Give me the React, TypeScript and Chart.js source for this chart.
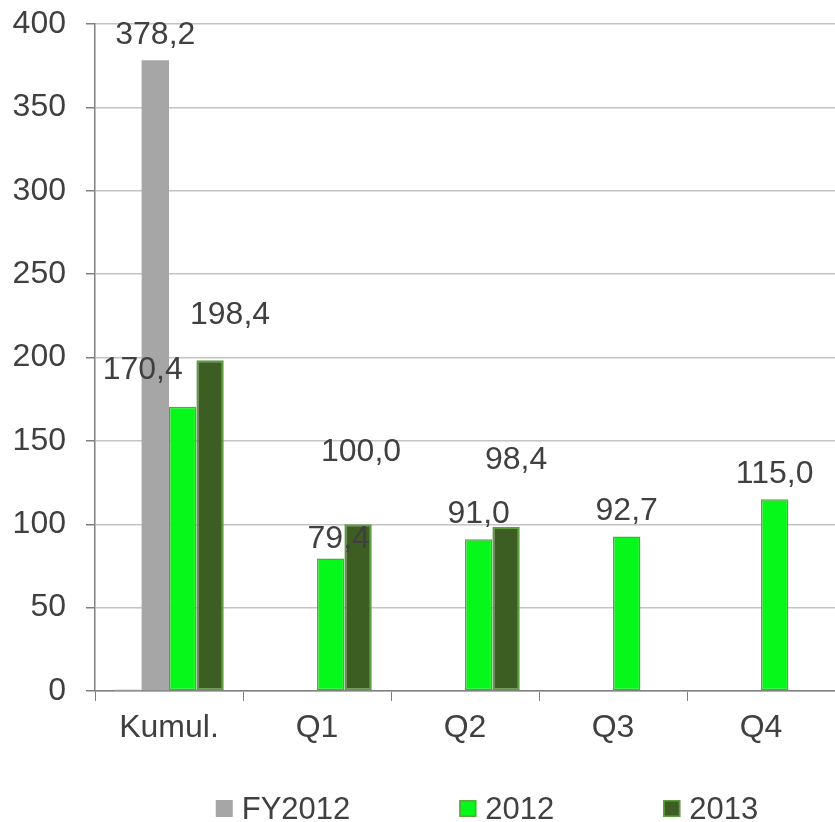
import React, { useEffect, useRef } from "react";
import { Chart, registerables } from "chart.js";

Chart.register(...registerables);

const FONT = '"Liberation Sans", Arial, sans-serif';
const TEXT = "#404040";

const categories = ["Kumul.", "Q1", "Q2", "Q3", "Q4"];
const seriesBlank: (number | null)[] = [0, null, null, null, null];
const seriesFY2012: (number | null)[] = [378.2, null, null, null, null];
const series2012: (number | null)[] = [170.4, 79.4, 91.0, 92.7, 115.0];
const series2013: (number | null)[] = [198.4, 100.0, 98.4, null, null];
const yMin = 0;
const yMax = 400;
const yStep = 50;

// pixel nudges of the value labels (label placement style only)
const nudgeFY2012 = [[0, 0], [0, 0], [0, 0], [0, 0], [0, 0]];
const nudge2012 = [[-40, -12], [8, 5], [0, 0], [0, 0], [0, 0]];
const nudge2013 = [[20, -20], [3, -47], [10, -42], [0, 0], [0, 0]];

const fmt = (v: number) => v.toFixed(1).replace(".", ",");

const valueLabels = {
  id: "valueLabels",
  afterDatasetsDraw(chart: any) {
    const ctx = chart.ctx;
    ctx.save();
    ctx.font = `32px ${FONT}`;
    ctx.fillStyle = TEXT;
    ctx.textAlign = "center";
    ctx.textBaseline = "alphabetic";
    chart.data.datasets.forEach((ds: any, di: number) => {
      if (!ds.nudges) return;
      const meta = chart.getDatasetMeta(di);
      meta.data.forEach((bar: any, i: number) => {
        const v = ds.data[i];
        if (v == null) return;
        const [dx, dy] = ds.nudges[i] || [0, 0];
        ctx.fillText(fmt(v), bar.x + dx, bar.y - 16 + dy);
      });
    });
    ctx.restore();
  },
};

const customLegend = {
  id: "customLegend",
  afterDraw(chart: any) {
    const ctx = chart.ctx;
    const items = chart.data.datasets.filter((d: any) => d.label);
    ctx.save();
    ctx.font = `31px ${FONT}`;
    const box = 17;
    const boxGap = 9;
    const gap = 109;
    const widths = items.map((it: any) => box + boxGap + ctx.measureText(it.label).width);
    const total = widths.reduce((a: number, b: number) => a + b, 0) + gap * (items.length - 1);
    let x = 487 - total / 2;
    const cy = 808.5;
    items.forEach((it: any, i: number) => {
      ctx.fillStyle = it.backgroundColor;
      ctx.fillRect(x, cy - box / 2, box, box);
      if (it.borderWidth) {
        ctx.strokeStyle = it.borderColor;
        ctx.lineWidth = 1.5;
        ctx.strokeRect(x + 0.75, cy - box / 2 + 0.75, box - 1.5, box - 1.5);
      }
      ctx.fillStyle = TEXT;
      ctx.textAlign = "left";
      ctx.textBaseline = "alphabetic";
      ctx.fillText(it.label, x + box + boxGap, 819);
      x += widths[i] + gap;
    });
    ctx.restore();
  },
};

export default function App() {
  const ref = useRef<HTMLCanvasElement | null>(null);
  useEffect(() => {
    document.body.style.margin = "0";
    if (!ref.current) return;
    const chart = new Chart(ref.current, {
      type: "bar",
      data: {
        labels: categories,
        datasets: [
          {
            label: "",
            data: seriesBlank,
            backgroundColor: "#d0d0d0",
            borderWidth: 0,
            minBarLength: 1.5,
          } as any,
          {
            label: "FY2012",
            data: seriesFY2012,
            backgroundColor: "#a6a6a6",
            borderWidth: 0,
            nudges: nudgeFY2012,
          } as any,
          {
            label: "2012",
            data: series2012,
            backgroundColor: "#06f81a",
            borderColor: "#5aa63c",
            borderWidth: 1.5,
            borderSkipped: false,
            nudges: nudge2012,
          } as any,
          {
            label: "2013",
            data: series2013,
            backgroundColor: "#3c5e22",
            borderColor: "#5f9e40",
            borderWidth: 2,
            borderSkipped: false,
            nudges: nudge2013,
          } as any,
        ],
      },
      options: {
        animation: false,
        responsive: true,
        maintainAspectRatio: false,
        layout: { padding: { top: 24, right: 0, bottom: 0, left: 0 } },
        datasets: { bar: { categoryPercentage: 0.74, barPercentage: 1 } },
        plugins: { legend: { display: false }, tooltip: { enabled: false } },
        scales: {
          x: {
            grid: {
              drawOnChartArea: false,
              drawTicks: true,
              tickLength: 10,
              tickColor: "#808080",
              offset: true,
            },
            border: { color: "#808080", width: 1.5 },
            ticks: { color: TEXT, font: { size: 32, family: FONT }, padding: 8 },
            afterFit: (s: any) => {
              s.height = 131;
              s.paddingLeft = 0;
              s.paddingRight = 0;
            },
          },
          y: {
            min: yMin,
            max: yMax,
            ticks: {
              stepSize: yStep,
              color: TEXT,
              font: { size: 32, family: FONT },
              padding: 20,
            },
            grid: { color: "#c4c4c4", tickColor: "#808080", tickLength: 9, lineWidth: 1.5 },
            border: { color: "#808080", width: 1.5 },
            afterFit: (s: any) => {
              s.width = 95;
              s.paddingTop = 0;
              s.paddingBottom = 0;
            },
          },
        },
      },
      plugins: [valueLabels, customLegend],
    });
    return () => chart.destroy();
  }, []);
  return (
    <div style={{ position: "relative", width: 835, height: 822 }}>
      <canvas ref={ref} />
    </div>
  );
}
